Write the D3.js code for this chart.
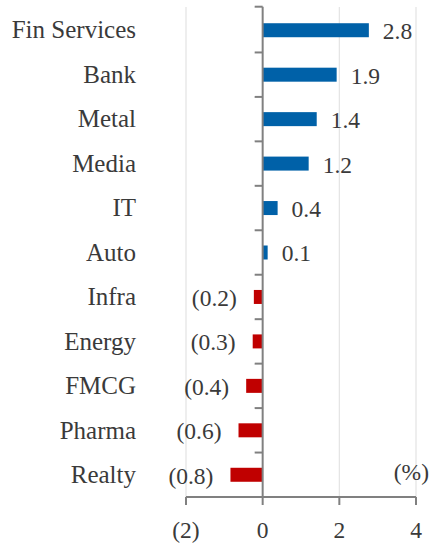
<!DOCTYPE html>
<html><head><meta charset="utf-8">
<script src="https://cdn.jsdelivr.net/npm/d3@7"></script>
<style>html,body{margin:0;padding:0;background:#fff;}svg{display:block;}</style>
</head><body>
<svg id="chart" width="433" height="545"></svg>
<script>
const categories = ["Fin Services","Bank","Metal","Media","IT","Auto","Infra","Energy","FMCG","Pharma","Realty"];
const values = [2.77, 1.93, 1.41, 1.2, 0.39, 0.13, -0.23, -0.26, -0.43, -0.63, -0.84];
const xTicks = [-2, 0, 2, 4];
const unitLabel = "(%)";

const svg = d3.select("#chart");
const font = "'Liberation Serif', 'DejaVu Serif', serif";
const textColor = "#3a3a3a";
const axisColor = "#808080";

const x = d3.scaleLinear().domain([-2, 4]).range([186, 416]);
const y = d3.scaleBand().domain(categories).range([8, 497]).padding(0);
const bw = y.bandwidth();

// gridlines
svg.append("g").selectAll("line").data(xTicks.filter(d => d !== 0)).join("line")
  .attr("x1", d => x(d)).attr("x2", d => x(d))
  .attr("y1", 7).attr("y2", 497)
  .attr("stroke", "#e3e3e3").attr("stroke-width", 1.2);

// bars
svg.append("g").selectAll("rect").data(categories).join("rect")
  .attr("x", (c, i) => Math.min(x(0), x(values[i])))
  .attr("width", (c, i) => Math.abs(x(values[i]) - x(0)))
  .attr("y", c => y(c) + bw * 0.5 - 7)
  .attr("height", 14)
  .attr("fill", (c, i) => values[i] >= 0 ? "#0061a8" : "#c00000");

// value labels
const fmt = v => v < 0 ? "(" + d3.format(".1f")(-v) + ")" : d3.format(".1f")(v);
svg.append("g").selectAll("text").data(categories).join("text")
  .attr("x", (c, i) => values[i] >= 0 ? x(values[i]) + 14 : x(values[i]) - 17)
  .attr("y", c => y(c) + bw / 2)
  .attr("dy", "0.38em")
  .attr("text-anchor", (c, i) => values[i] >= 0 ? "start" : "end")
  .attr("font-family", font).attr("font-size", 23.5).attr("fill", textColor)
  .text((c, i) => fmt(values[i]));

// category labels
svg.append("g").selectAll("text").data(categories).join("text")
  .attr("x", 136)
  .attr("y", c => y(c) + bw / 2)
  .attr("dy", "0.33em")
  .attr("text-anchor", "end")
  .attr("font-family", font).attr("font-size", 25).attr("fill", textColor)
  .text(c => c);

// y axis line
svg.append("line").attr("x1", x(0)).attr("x2", x(0)).attr("y1", 6.7).attr("y2", 497)
  .attr("stroke", axisColor).attr("stroke-width", 2);
// category boundary ticks
const bounds = categories.map(c => y(c));
svg.append("g").selectAll("line").data(bounds).join("line")
  .attr("x1", x(0) - 8).attr("x2", x(0))
  .attr("y1", (d, i) => i === 0 ? 6.7 : d).attr("y2", (d, i) => i === 0 ? 6.7 : d)
  .attr("stroke", axisColor).attr("stroke-width", 2);

// x axis
svg.append("line").attr("x1", x(-2)).attr("x2", x(4)).attr("y1", 497).attr("y2", 497)
  .attr("stroke", axisColor).attr("stroke-width", 2);
svg.append("g").selectAll("line").data(xTicks).join("line")
  .attr("x1", d => x(d)).attr("x2", d => x(d)).attr("y1", 497).attr("y2", 505)
  .attr("stroke", axisColor).attr("stroke-width", 2);
svg.append("g").selectAll("text").data(xTicks).join("text")
  .attr("x", d => x(d)).attr("y", 538)
  .attr("text-anchor", "middle")
  .attr("font-family", font).attr("font-size", 23.5).attr("fill", textColor)
  .text(d => d < 0 ? "(" + (-d) + ")" : d);

svg.append("text").attr("x", 429).attr("y", 480).attr("text-anchor", "end")
  .attr("font-family", font).attr("font-size", 23.5).attr("fill", textColor)
  .text(unitLabel);
</script>
</body></html>
